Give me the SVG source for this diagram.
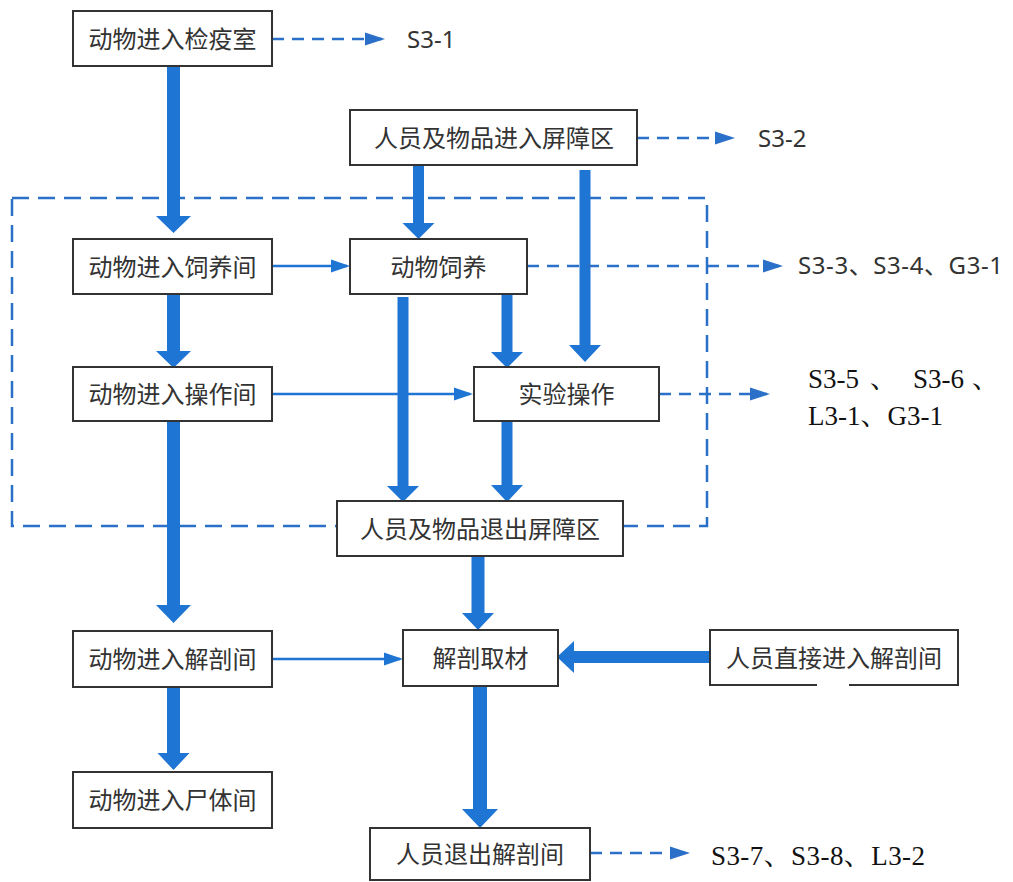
<svg xmlns="http://www.w3.org/2000/svg" width="1013" height="882" viewBox="0 0 1013 882">
<style>
.box{fill:#fff;stroke:#333;stroke-width:2}
.bt{font-family:"Noto Sans CJK SC","Noto Sans",sans-serif;font-size:24px;fill:#333;text-anchor:middle}
.out{font-family:"Noto Sans","Noto Sans CJK SC",sans-serif;font-size:24px;fill:#333}
.outs{font-family:"Liberation Serif","Noto Serif CJK SC","Noto Sans CJK SC",serif;font-size:27px;fill:#111}
.big{fill:#1f75d3}
.thin{stroke:#1f75d3;stroke-width:2.5;fill:none;marker-end:url(#tri)}
.dash{stroke:#2a70c8;stroke-width:2.5;fill:none;stroke-dasharray:12 8;marker-end:url(#tri2)}
.zone{stroke:#2a70c8;stroke-width:2.5;fill:none;stroke-dasharray:17 9}
</style>
<defs>
<marker id="tri" markerUnits="userSpaceOnUse" markerWidth="19" markerHeight="14" refX="16" refY="7" orient="auto">
<path d="M0,0.5 L19,7 L0,13.5 Z" fill="#1f75d3"/>
</marker>
<marker id="tri2" markerUnits="userSpaceOnUse" markerWidth="20" markerHeight="14" refX="17" refY="7" orient="auto">
<path d="M0,0.5 L20,7 L0,13.5 Z" fill="#2a70c8"/>
</marker>
</defs>
<rect width="1013" height="882" fill="#fff"/>
<g id="barrier-zone">
<rect class="zone" x="12" y="198" width="695" height="328"/>
</g>
<g id="connectors">
<path class="big" d="M167,66 H180 V216 H191 L173.5,233 L156,216 H167 Z"/>
<path class="big" d="M167,294 H180 V351 H191 L173.5,368 L156,351 H167 Z"/>
<path class="big" d="M167,421 H180 V605 H191 L173.5,623 L156,605 H167 Z"/>
<path class="big" d="M167,687 H180 V753 H189.5 L173.5,770 L157.5,753 H167 Z"/>
<path class="big" d="M413,165 H424 V223 H434.5 L418.5,239 L402.5,223 H413 Z"/>
<path class="big" d="M579.5,170 H590.5 V345 H601 L585,362 L569,345 H579.5 Z"/>
<path class="big" d="M501.5,294 H512.5 V352 H523 L507,368 L491,352 H501.5 Z"/>
<path class="big" d="M397.5,297 H408.5 V486 H419 L403,502 L387,486 H397.5 Z"/>
<path class="big" d="M501.5,421 H512.5 V485 H523 L507,502 L491,485 H501.5 Z"/>
<path class="big" d="M471.5,556 H484.5 V613 H494 L478,630 L462,613 H471.5 Z"/>
<path class="big" d="M473,686 H487 V809 H498 L480,828 L462,809 H473 Z"/>
<path class="big" d="M710,651 V663 H574 V673 L557,657 L574,641 V651 Z"/>
<path class="thin" d="M272,266 H347"/>
<path class="thin" d="M272,394 H470"/>
<path class="thin" d="M272,659 H400"/>
<path class="dash" d="M272,39 H382"/>
<path class="dash" d="M637,138 H732"/>
<path class="dash" d="M527,266 H780"/>
<path class="dash" d="M659,394 H767"/>
<path class="dash" d="M590,853 H687"/>
</g>
<g id="n1"><rect class="box" x="73" y="11" width="199" height="55"/><text class="bt" x="172.5" y="48">动物进入检疫室</text></g>
<g id="n2"><rect class="box" x="350" y="110" width="287" height="55"/><text class="bt" x="494" y="147">人员及物品进入屏障区</text></g>
<g id="n3"><rect class="box" x="73" y="239" width="199" height="55"/><text class="bt" x="172.5" y="276">动物进入饲养间</text></g>
<g id="n4"><rect class="box" x="350" y="239" width="177" height="55"/><text class="bt" x="438.5" y="276">动物饲养</text></g>
<g id="n5"><rect class="box" x="73" y="367" width="199" height="54"/><text class="bt" x="172.5" y="403">动物进入操作间</text></g>
<g id="n6"><rect class="box" x="474" y="367" width="185" height="54"/><text class="bt" x="566.5" y="403">实验操作</text></g>
<g id="n7"><rect class="box" x="337" y="501" width="286" height="55"/><text class="bt" x="480" y="538">人员及物品退出屏障区</text></g>
<g id="n8"><rect class="box" x="73" y="631" width="199" height="56"/><text class="bt" x="172.5" y="668">动物进入解剖间</text></g>
<g id="n9"><rect class="box" x="403" y="630" width="155" height="56"/><text class="bt" x="480.5" y="667">解剖取材</text></g>
<g id="n10"><rect class="box" x="710" y="630" width="248" height="55"/><rect x="817" y="683" width="32" height="4" fill="#fff"/><text class="bt" x="834" y="667">人员直接进入解剖间</text></g>
<g id="n11"><rect class="box" x="73" y="772" width="199" height="56"/><text class="bt" x="172.5" y="809">动物进入尸体间</text></g>
<g id="n12"><rect class="box" x="370" y="828" width="220" height="52"/><text class="bt" x="480" y="863">人员退出解剖间</text></g>
<g id="out1"><text class="out" x="407" y="48">S3-1</text></g>
<g id="out2"><text class="out" x="758" y="147">S3-2</text></g>
<g id="out3"><text class="out" x="798" y="274" textLength="205" lengthAdjust="spacing">S3-3、S3-4、G3-1</text></g>
<g id="out4"><text class="outs" y="388"><tspan x="808">S3-5</tspan><tspan x="870">、</tspan><tspan x="913">S3-6</tspan><tspan x="972">、</tspan></text><text class="outs" x="808" y="425">L3-1、G3-1</text></g>
<g id="out5"><text class="outs" x="711" y="865" textLength="214" lengthAdjust="spacing">S3-7、S3-8、L3-2</text></g>
</svg>
